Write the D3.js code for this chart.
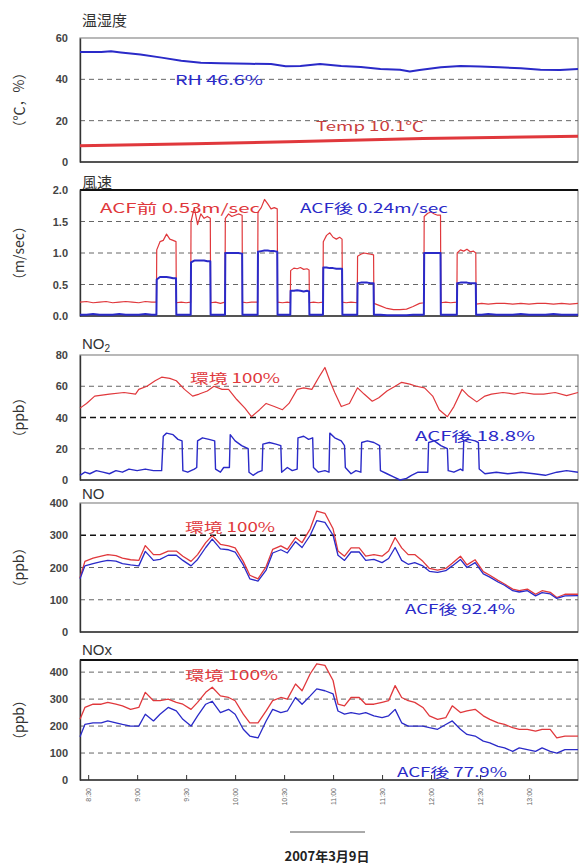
<!DOCTYPE html>
<html>
<head>
<meta charset="utf-8">
<script src="https://cdn.jsdelivr.net/npm/d3@7"></script>
<style>
  body { margin: 0; background: #fff; }
  svg { display: block; font-family: "Liberation Sans", "Noto Sans CJK JP", sans-serif; }
</style>
</head>
<body>
<svg id="chart" width="583" height="866"></svg>
<script>
// ---- time axis: minutes after 08:25 on 2007-03-09 ----
const tickLabels = ["8:30", "9:00", "9:30", "10:00", "10:30", "11:00", "11:30", "12:00", "12:30", "13:00"];

// ---- 温湿度 ----
const rhMin = [0,13,19,25,37,50,62,74,86,104,117,126,135,147,160,172,184,196,202,208,221,233,245,257,270,282,294,305];
const rh    = [53.2,53.2,53.6,53,52,50.5,49,48,47.8,47.5,47.4,46.3,46.5,47.4,46.5,46,45,44.6,43.8,44.5,45.8,46.5,46.2,45.8,45.4,44.6,44.5,45];
const tempMin = [0,70,128,210,305];
const temp    = [7.9,8.8,9.8,11.4,12.4];

// ---- 風速 (m/sec) ----
const windMin = [
  0,4,8,12,16,20,24,28,32,36,40,44,46.8,
  47,49,51,53,55,57,58.8,
  59,62,65,67.8,
  68,70,72,74,76,78,79.8,
  80,83,86,88.8,
  89,91,93,95,97,99.3,
  99.5,102,105,108.8,
  109,111,113,115,117,119,120.8,
  121,124,127,128.8,
  129,131,133,135,137,139,140.3,
  140.5,143,146,148.8,
  149,151,153,155,157,159,160.5,
  160.7,163,166,169.8,
  170,172,174,176,178,179.8,
  180,184,188,192,196,200,204,208,210.6,
  210.8,213,215,217,219,220.8,
  221,224,227,230.8,
  231,233,235,237,239,241,242.4,
  242.6,246,250,255,260,265,270,275,280,285,290,295,300,305
];
const windBefore = [
  .22,.23,.21,.22,.23,.21,.22,.23,.22,.21,.23,.22,.22,
  1.05,1.18,1.2,1.3,1.22,1.2,1.18,
  .21,.22,.21,.22,
  1.5,1.72,1.45,1.62,1.55,1.58,1.55,
  .21,.22,.2,.22,
  1.55,1.62,1.58,1.6,1.62,1.6,
  .22,.21,.22,.22,
  1.65,1.72,1.85,1.78,1.7,1.72,1.7,
  .22,.21,.22,.21,
  .72,.76,.75,.77,.74,.75,.73,
  .21,.22,.21,.22,
  1.18,1.28,1.32,1.25,1.22,1.25,1.22,
  .22,.21,.22,.21,
  .95,.98,1.0,.99,.98,.97,
  .2,.16,.12,.1,.1,.11,.15,.2,.21,
  1.58,1.63,1.65,1.62,1.6,1.6,
  .21,.22,.21,.22,
  1.0,1.05,1.03,1.06,1.02,1.03,1.0,
  .19,.2,.19,.2,.2,.19,.2,.19,.2,.2,.19,.2,.19,.2
];
const windAfter = [
  .02,.02,.03,.02,.02,.02,.03,.02,.02,.02,.03,.02,.02,
  .58,.62,.62,.62,.61,.6,.6,
  .02,.02,.02,.02,
  .85,.88,.88,.88,.88,.87,.87,
  .02,.02,.02,.02,
  1.0,1.0,1.0,1.0,1.0,.99,
  .02,.02,.02,.02,
  1.02,1.03,1.04,1.04,1.03,1.03,1.02,
  .02,.02,.02,.02,
  .4,.4,.41,.4,.39,.4,.39,
  .02,.02,.02,.02,
  .77,.77,.76,.76,.75,.75,.75,
  .02,.02,.02,.02,
  .52,.53,.53,.53,.52,.52,
  .02,.02,.01,.01,.01,.01,.02,.02,.02,
  1.0,1.0,1.0,1.0,1.0,1.0,
  .02,.02,.02,.02,
  .52,.53,.53,.53,.52,.52,.52,
  .02,.02,.03,.02,.02,.02,.03,.02,.02,.02,.03,.02,.02,.02
];

// ---- NO2 (ppb) ----
const no2Min = [0,4,9,18,27,34,36,41,46,50,55,59,64,69,73,78,82,87,91,96,101,105,110,114,119,124,128,133,137,142,
  147,150,153,156,160,165,170,174,179,183,188,193,197,202,206,211,216,220,225,229,234,238,243,248,252,259,266,271,278,284,291,298,305];
const no2Env = [46,49,53.7,55,56,55,58,60,63.5,65.8,65,63.5,58,53.7,55,57,60,58,58,51.5,46,40.5,45,49,47,45,49,58,59,58,
  67,72,63.5,56,47,49,59,55,50.4,52.6,57,60,62.5,61.4,60,59,53.7,45,40.5,47,58,53.7,50,53.7,55,56,55,56,55,55,56,54,56];
const no2AfterMin = [
  0,3,6,10,14,18,22,26,30,35,40,45,50,
  51,53,57,60,62.5, 63,66,70,71.5, 72,75,79,82.5, 83,86,88,91.5, 92,95,99,103,
  103.5,106,109,111.5, 112,116,120,123, 123.5,127,130,133, 133.5,137,140,142.5,
  143,146,150,152.5, 153,156,160,162, 162.5,166,169,172, 172.5,176,180,183.5,
  184,188,192,196,200,203,207,210,213, 213.5,217,221,225, 225.5,229,233,234.5,
  235,238,242,244, 244.5,248,255,262,270,278,285,292,298,305
];
const no2After = [
  3,5,4,6,5,4,6,5,7,6,7,6,6,
  28,30,29,26,25, 6,5,7,8, 25,27,26,25, 7,5,8,8, 29,25,22,20,
  5,3,5,6, 23,24,23,22, 5,8,6,7, 27,28,26,27,
  8,5,6,5, 30,27,25,22, 8,4,6,5, 24,25,24,22,
  6,4,2,0,1,3,5,5,5, 24,25,22,20, 6,5,7,6,
  25,26,25,24, 7,4,5,4,5,4,3,5,6,5
];

// ---- NO / NOx (ppb) ----
const noxMin = [0,3,8,13,17,22,26,31,36,40,45,49,54,59,63,68,72,77,81,86,91,95,100,104,109,114,118,123,127,132,
  136,141,145,150,155,158,162,166,171,175,180,185,189,193,197,201,205,210,214,219,224,228,233,237,242,247,251,256,260,265,
  269,274,279,283,288,292,297,305];
const noEnv = [168,219,229,235,240,237,229,224,222,268,240,240,251,251,235,219,240,277,299,272,267,261,219,176,165,203,256,267,256,293,
  277,320,375,368,320,251,235,261,261,235,240,235,251,293,261,240,240,219,197,192,197,213,235,208,224,187,176,160,149,133,
  128,133,117,128,123,107,117,117];
const noAfter = [165,205,212,218,222,220,212,208,205,250,222,225,238,238,222,205,225,262,288,258,255,248,208,165,158,192,245,255,245,280,
  262,300,345,340,300,238,222,248,248,222,225,215,228,262,222,210,215,205,188,185,190,205,225,200,215,180,170,155,145,128,
  124,128,112,122,118,104,112,113];
const noxEnv = [225,269,281,281,288,281,275,262,269,325,294,294,300,288,281,262,288,325,344,312,306,294,244,212,212,256,294,306,300,356,
  331,394,431,425,369,281,275,306,306,281,281,288,294,350,306,294,288,269,238,225,231,275,250,256,262,238,225,212,206,194,
  188,188,181,188,188,156,163,163];
const noxAfter = [160,206,212,212,219,212,206,200,200,244,219,244,269,256,225,200,238,281,292,250,262,244,188,163,156,219,262,250,256,306,
  281,312,338,331,319,256,244,250,244,250,238,231,238,262,212,200,200,200,194,188,206,219,188,169,163,144,138,125,119,106,
  119,113,106,119,106,100,113,113];

// ---------------------------------------------------------------
const RED = "#e0383c", BLUE = "#2a2ac8";
const svg = d3.select("#chart");
const t0 = new Date(2007, 2, 9, 8, 25);
const toDate = m => new Date(t0.getTime() + m * 60000);
const parseHM = s => { const [h, mm] = s.split(":").map(Number); return new Date(2007, 2, 9, h, mm); };

const x = d3.scaleTime().domain([toDate(0), toDate(305)]).range([80, 578]);

const zip = (ts, vs) => ts.map((t, i) => [toDate(t), vs[i]]);

const panels = [
  { title: "温湿度", titleY: 26, unit: "（℃，%）", top: 38, bottom: 162, domain: [0, 60], ticks: [0, 20, 40, 60],
    grid: [20, 40], darkGrid: [], fmt: d3.format("d"), topDark: false,
    series: [ { d: zip(rhMin, rh), c: BLUE, w: 2 }, { d: zip(tempMin, temp), c: RED, w: 3 } ],
    notes: [ { t: "RH  46.6%", x: 175, y: 85, c: BLUE, len: 88 }, { t: "Temp  10.1℃", x: 316, y: 131, c: "#c84040", len: 108 } ] },
  { title: "風速", titleY: 188, unit: "（m/sec）", top: 190, bottom: 316, domain: [0, 2], ticks: [0, .5, 1, 1.5, 2],
    grid: [.5, 1, 1.5], darkGrid: [], fmt: d3.format(".1f"), topDark: true,
    series: [ { d: zip(windMin, windBefore), c: RED, w: 1.2 }, { d: zip(windMin, windAfter), c: BLUE, w: 2 } ],
    notes: [ { t: "ACF前 0.53m/sec", x: 100, y: 213, c: RED, len: 160 }, { t: "ACF後 0.24m/sec", x: 300, y: 213, c: BLUE, len: 148 } ] },
  { title: "NO", sub: "2", titleY: 349, unit: "（ppb）", top: 355, bottom: 480, domain: [0, 80], ticks: [0, 20, 40, 60, 80],
    grid: [20, 60], darkGrid: [40], fmt: d3.format("d"), topDark: false,
    series: [ { d: zip(no2Min, no2Env), c: RED, w: 1.2 }, { d: zip(no2AfterMin, no2After), c: BLUE, w: 1.4 } ],
    notes: [ { t: "環境 100%", x: 190, y: 383, c: RED, len: 90 }, { t: "ACF後  18.8%", x: 415, y: 441, c: BLUE, len: 120 } ] },
  { title: "NO", titleY: 499, unit: "（ppb）", top: 503, bottom: 632, domain: [0, 400], ticks: [0, 100, 200, 300, 400],
    grid: [100, 200], darkGrid: [300], fmt: d3.format("d"), topDark: false,
    series: [ { d: zip(noxMin, noEnv), c: RED, w: 1.3 }, { d: zip(noxMin, noAfter), c: BLUE, w: 1.3 } ],
    notes: [ { t: "環境 100%", x: 185, y: 532, c: RED, len: 90 }, { t: "ACF後 92.4%", x: 405, y: 614, c: BLUE, len: 110 } ] },
  { title: "NOx", titleY: 655, unit: "（ppb）", top: 660, bottom: 780, domain: [0, 445], ticks: [0, 100, 200, 300, 400],
    grid: [100, 200, 300, 400], darkGrid: [], fmt: d3.format("d"), topDark: true,
    series: [ { d: zip(noxMin, noxEnv), c: RED, w: 1.3 }, { d: zip(noxMin, noxAfter), c: BLUE, w: 1.3 } ],
    notes: [ { t: "環境 100%", x: 185, y: 680, c: RED, len: 93 }, { t: "ACF後  77.9%", x: 397, y: 777, c: BLUE, len: 110 } ] }
];

panels.forEach((p, pi) => {
  const y = d3.scaleLinear().domain(p.domain).range([p.bottom, p.top]);
  const g = svg.append("g");

  // panel title
  const title = g.append("text").attr("x", 82).attr("y", p.titleY)
    .attr("font-size", 15).attr("fill", "#333").text(p.title);
  if (p.sub) title.append("tspan").attr("font-size", 10).attr("dy", 3).text(p.sub);

  // unit label (rotated)
  const cy = (p.top + p.bottom) / 2;
  g.append("text").attr("transform", `translate(24,${cy}) rotate(-90)`)
    .attr("text-anchor", "middle").attr("font-size", 14).attr("fill", "#333")
    .attr("font-family", "Noto Sans CJK JP").text(p.unit);

  // frame
  g.append("rect").attr("x", 80).attr("y", p.top).attr("width", 498).attr("height", p.bottom - p.top)
    .attr("fill", "none").attr("stroke", "#8a8a8a").attr("stroke-width", 1.2);
  if (p.topDark) {
    g.append("line").attr("x1", 80).attr("x2", 578).attr("y1", p.top).attr("y2", p.top)
      .attr("stroke", "#111").attr("stroke-width", 2);
  }

  // dashed gridlines
  g.selectAll(".grid").data(p.grid).join("line")
    .attr("x1", 80).attr("x2", 578).attr("y1", d => y(d)).attr("y2", d => y(d))
    .attr("stroke", "#666").attr("stroke-width", 1).attr("stroke-dasharray", "5,4");
  g.selectAll(".dgrid").data(p.darkGrid).join("line")
    .attr("x1", 80).attr("x2", 578).attr("y1", d => y(d)).attr("y2", d => y(d))
    .attr("stroke", "#111").attr("stroke-width", 1.6).attr("stroke-dasharray", "6,4");

  // y axis
  const ya = g.append("g").attr("transform", "translate(80,0)")
    .call(d3.axisLeft(y).tickValues(p.ticks).tickFormat(p.fmt).tickSize(0).tickPadding(12));
  ya.select(".domain").attr("stroke", "#333").attr("stroke-width", 1.4);
  ya.selectAll("text").attr("font-size", 11).attr("fill", "#444").attr("font-weight", "bold");

  // bottom axis line
  g.append("line").attr("x1", 80).attr("x2", 578).attr("y1", p.bottom).attr("y2", p.bottom)
    .attr("stroke", "#333").attr("stroke-width", 1.4);

  // series
  const line = d3.line().x(d => x(d[0])).y(d => y(d[1]));
  p.series.forEach(s => {
    g.append("path").datum(s.d).attr("d", line).attr("fill", "none")
      .attr("stroke", s.c).attr("stroke-width", s.w).attr("stroke-linejoin", "round");
  });

  // annotations
  p.notes.forEach(n => {
    g.append("text").attr("x", n.x).attr("y", n.y).attr("fill", n.c)
      .attr("font-size", 13).attr("font-family", "Noto Sans CJK JP")
      .attr("textLength", n.len).attr("lengthAdjust", "spacingAndGlyphs").text(n.t);
  });

  // time axis below the last panel
  if (pi === panels.length - 1) {
    const tv = tickLabels.map(parseHM);
    const xa = g.append("g").attr("transform", `translate(0,${p.bottom})`)
      .call(d3.axisBottom(x).tickValues(tv).tickSize(-5).tickPadding(0)
        .tickFormat((d, i) => tickLabels[i]));
    xa.select(".domain").remove();
    xa.selectAll("line").attr("stroke", "#333");
    xa.selectAll("text").attr("font-size", 7).attr("fill", "#666")
      .attr("text-anchor", "end").attr("dy", "0.32em")
      .attr("transform", "translate(0,8) rotate(-90)").attr("y", 0).attr("x", 0);
  }
});

// date caption
svg.append("line").attr("x1", 290).attr("x2", 365).attr("y1", 832).attr("y2", 832)
  .attr("stroke", "#555").attr("stroke-width", 1);
svg.append("text").attr("x", 327).attr("y", 861).attr("text-anchor", "middle")
  .attr("font-size", 13).attr("font-weight", "bold").attr("fill", "#222")
  .attr("font-family", "Noto Sans CJK JP").text("2007年3月9日");
</script>
</body>
</html>
